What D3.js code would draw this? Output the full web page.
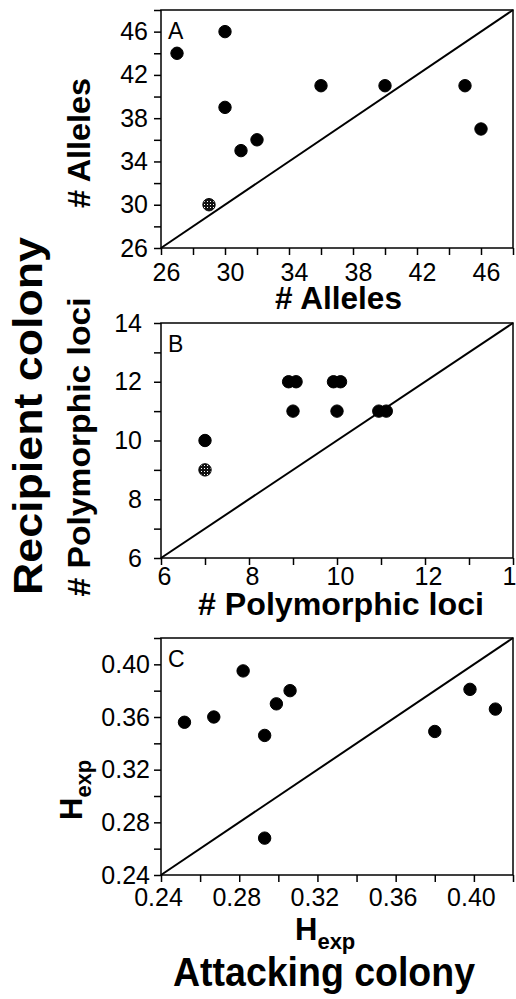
<!DOCTYPE html>
<html lang="en">
<head>
  <meta charset="UTF-8">
  <title>Attacking vs recipient colony</title>
  <style>
    body {
      margin: 0;
      background: #fff;
    }
    svg text {
      font-family: "Liberation Sans", Arial, Helvetica, sans-serif;
      fill: #000;
    }
    .tick text {
      font-size: 25px;
    }
    .axis path, .axis line {
      stroke: #000;
      stroke-width: 1.5;
    }
    .title {
      font-weight: bold;
    }
  </style>
</head>
<body>
  <svg id="chart" width="516" height="999"></svg>

  <script src="https://cdnjs.cloudflare.com/ajax/libs/d3/7.8.5/d3.min.js"></script>
  <script>
    // Panel A: number of alleles
    const allelesAttack = [27, 30, 30, 31, 32, 29, 36, 40, 45, 46];
    const allelesRecip  = [44, 46, 39, 35, 36, 30, 41, 41, 41, 37];
    const allelesTicks  = [26, 28, 30, 32, 34, 36, 38, 40, 42, 44, 46, 48];
    const allelesLabels = ["26", "30", "34", "38", "42", "46"];

    // Panel B: number of polymorphic loci (overlapping dots read as slightly apart)
    const lociAttack = [7, 7, 8.9, 9.07, 9, 9.92, 10.08, 10, 10.95, 11.12];
    const lociRecip  = [10, 9, 12, 12, 11, 12, 12, 11, 11, 11];
    const lociTicks  = [6, 7, 8, 9, 10, 11, 12, 13, 14];
    const lociLabels = ["6", "8", "10", "12", "14"];

    // Panel C: expected heterozygosity
    const hexpAttack = [0.252, 0.267, 0.282, 0.293, 0.299, 0.306, 0.293, 0.380, 0.398, 0.411];
    const hexpRecip  = [0.356, 0.360, 0.395, 0.346, 0.370, 0.380, 0.268, 0.349, 0.381, 0.366];
    const hexpTicks  = [0.24, 0.26, 0.28, 0.30, 0.32, 0.34, 0.36, 0.38, 0.40, 0.42];
    const hexpLabels = ["0.24", "0.28", "0.32", "0.36", "0.40"];

    const svg = d3.select("#chart");
    const left = 161, right = 513;

    // hatched fill for the odd marker
    const pat = svg.append("defs").append("pattern")
      .attr("id", "hatch")
      .attr("width", 3).attr("height", 3)
      .attr("patternUnits", "userSpaceOnUse");
    pat.append("rect").attr("width", 3).attr("height", 3).attr("fill", "#111");
    pat.append("rect").attr("width", 1).attr("height", 1).attr("fill", "#fff");

    const panels = [
      { letter: "A", xs: allelesAttack, ys: allelesRecip, hatched: 5,
        domain: [26, 48], ticks: allelesTicks, labels: allelesLabels,
        fmt: d3.format("d"), top: 10, bottom: 248, yPad: 6, xPad: 8, xShift: 5 },
      { letter: "B", xs: lociAttack, ys: lociRecip, hatched: 1,
        domain: [6, 14], ticks: lociTicks, labels: lociLabels,
        fmt: d3.format("d"), top: 323, bottom: 558, yPad: 12, xPad: 2, xShift: 3 },
      { letter: "C", xs: hexpAttack, ys: hexpRecip, hatched: -1,
        domain: [0.24, 0.42], ticks: hexpTicks, labels: hexpLabels,
        fmt: d3.format(".2f"), top: 638, bottom: 875, yPad: 4, xPad: 6, xShift: -3 }
    ];

    panels.forEach(p => {
      const x = d3.scaleLinear().domain(p.domain).range([left, right]);
      const y = d3.scaleLinear().domain(p.domain).range([p.bottom, p.top]);
      const label = d => p.labels.includes(p.fmt(d)) ? p.fmt(d) : "";

      // frame
      svg.append("rect")
        .attr("x", left).attr("y", p.top)
        .attr("width", right - left).attr("height", p.bottom - p.top)
        .attr("fill", "none").attr("stroke", "#000").attr("stroke-width", 1.5);

      const xAxis = svg.append("g")
        .attr("class", "axis")
        .attr("transform", `translate(0,${p.bottom})`)
        .call(d3.axisBottom(x).tickValues(p.ticks).tickFormat(label)
          .tickSize(7).tickSizeOuter(0).tickPadding(p.xPad));
      xAxis.selectAll("text").attr("dx", p.xShift);

      svg.append("g")
        .attr("class", "axis")
        .attr("transform", `translate(${left},0)`)
        .call(d3.axisLeft(y).tickValues(p.ticks).tickFormat(label)
          .tickSize(7).tickSizeOuter(0).tickPadding(p.yPad));

      svg.selectAll(".axis .domain").remove();

      // 1:1 line
      svg.append("line")
        .attr("x1", x(p.domain[0])).attr("y1", y(p.domain[0]))
        .attr("x2", x(p.domain[1])).attr("y2", y(p.domain[1]))
        .attr("stroke", "#000").attr("stroke-width", 2);

      svg.append("g")
        .selectAll("circle")
        .data(p.xs.map((v, i) => ({ x: v, y: p.ys[i], i })))
        .join("circle")
        .attr("cx", d => x(d.x))
        .attr("cy", d => y(d.y))
        .attr("r", 6.2)
        .attr("fill", d => d.i === p.hatched ? "url(#hatch)" : "#000")
        .attr("stroke", "#000")
        .attr("stroke-width", 1);

      svg.append("text")
        .attr("x", 168).attr("y", p.top + 28.5)
        .attr("font-size", 23)
        .text(p.letter);
    });

    // x axis titles
    svg.append("text").attr("class", "title")
      .attr("x", 275).attr("y", 309)
      .attr("font-size", 31)
      .attr("textLength", 127).attr("lengthAdjust", "spacingAndGlyphs")
      .text("# Alleles");

    svg.append("text").attr("class", "title")
      .attr("x", 198).attr("y", 615)
      .attr("font-size", 31)
      .attr("textLength", 286).attr("lengthAdjust", "spacingAndGlyphs")
      .text("# Polymorphic loci");

    const hx = svg.append("text").attr("class", "title")
      .attr("x", 295).attr("y", 940)
      .attr("font-size", 31);
    hx.append("tspan").text("H");
    hx.append("tspan").attr("font-size", 22).attr("dy", 9).text("exp");

    svg.append("text").attr("class", "title")
      .attr("x", 173).attr("y", 986)
      .attr("font-size", 40)
      .attr("textLength", 302).attr("lengthAdjust", "spacingAndGlyphs")
      .text("Attacking colony");

    // y axis titles (rotated)
    function vTitle(cy, baseX, size, len, txt) {
      return svg.append("text").attr("class", "title")
        .attr("transform", `translate(${baseX},${cy}) rotate(-90)`)
        .attr("text-anchor", "middle")
        .attr("font-size", size)
        .attr("textLength", len).attr("lengthAdjust", "spacingAndGlyphs")
        .text(txt);
    }
    vTitle(143, 90, 31, 130, "# Alleles");
    vTitle(447, 90, 31, 299, "# Polymorphic loci");
    vTitle(416, 42, 40, 358, "Recipient colony");

    const hy = svg.append("text").attr("class", "title")
      .attr("transform", "translate(82,820) rotate(-90)")
      .attr("font-size", 31);
    hy.append("tspan").text("H");
    hy.append("tspan").attr("font-size", 22).attr("dy", 9).text("exp");
  </script>
</body>
</html>
